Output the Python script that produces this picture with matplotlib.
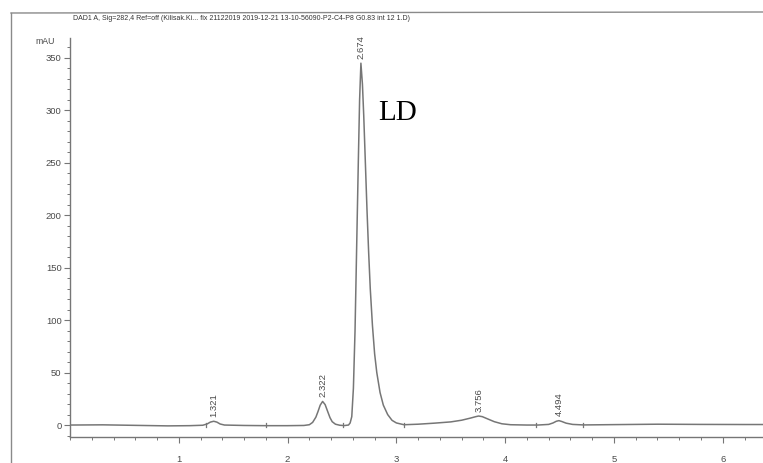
import matplotlib
matplotlib.use("Agg")
import matplotlib.pyplot as plt
from matplotlib.lines import Line2D
from matplotlib.ticker import MultipleLocator

# Detector trace, read point by point (retention time in min, signal in mAU)
trace_time = [0.00, 0.30, 0.60, 0.90, 1.10, 1.22, 1.26, 1.29, 1.321, 1.35, 1.38, 1.42,
              1.60, 1.80, 2.00, 2.15, 2.20, 2.23, 2.26, 2.28, 2.30, 2.322, 2.345, 2.37,
              2.39, 2.41, 2.44, 2.48, 2.52, 2.56, 2.575, 2.59, 2.605, 2.62, 2.635, 2.65,
              2.662, 2.674, 2.688, 2.70, 2.715, 2.73, 2.745, 2.76, 2.78, 2.80, 2.82, 2.85,
              2.88, 2.92, 2.96, 3.00, 3.07, 3.20, 3.35, 3.50, 3.60, 3.68, 3.73, 3.756,
              3.79, 3.84, 3.90, 3.97, 4.05, 4.20, 4.30, 4.40, 4.44, 4.47, 4.494, 4.52,
              4.56, 4.62, 4.72, 5.00, 5.40, 5.80, 6.20, 6.37]
trace_mau = [0.0, 0.2, -0.3, -0.8, -0.6, -0.2, 1.0, 2.8, 3.6, 2.8, 1.0, 0.0,
             -0.4, -0.6, -0.6, -0.4, 0.3, 2.5, 7.5, 13.0, 19.0, 22.5, 19.5, 12.5,
             7.0, 3.2, 0.8, -0.2, -0.5, 0.0, 2.0, 8.0, 35.0, 90.0, 170.0, 250.0,
             310.0, 345.0, 325.0, 295.0, 250.0, 205.0, 165.0, 130.0, 95.0, 68.0, 50.0, 31.0,
             19.0, 10.0, 4.5, 2.0, 0.3, 0.8, 1.8, 3.0, 4.6, 6.6, 8.0, 8.6,
             8.0, 5.8, 3.2, 1.2, 0.3, 0.0, 0.0, 0.6, 2.0, 3.6, 4.2, 3.4,
             1.8, 0.6, 0.1, 0.4, 0.8, 0.6, 0.5, 0.5]

# Integrated peaks: retention time and apex height
peak_time = [1.321, 2.322, 2.674, 3.756, 4.494]
peak_height = [3.6, 22.5, 345.0, 8.6, 4.2]
peak_label = ["1.321", "2.322", "2.674", "3.756", "4.494"]

# Integration event marks on the baseline
event_time = [1.25, 1.80, 2.51, 3.07, 4.28, 4.72]

x_ticks = [1, 2, 3, 4, 5, 6]
y_ticks = [0, 50, 100, 150, 200, 250, 300, 350]

title = ("DAD1 A, Sig=282,4 Ref=off (Kilisak.Ki... fix 21122019 2019-12-21 "
         "13-10-56090-P2-C4-P8 G0.83 int 12 1.D)")

W, H = 763, 463
fig = plt.figure(figsize=(W / 100, H / 100), dpi=100)
ax = fig.add_axes([70 / W, 1 - 437 / H, 1 - 70 / W, (437 - 38) / H])

ink = "#767676"
txt = "#4a4a4a"

ax.plot(trace_time, trace_mau, color=ink, lw=1.1, solid_joinstyle="round")

for t in event_time:
    ax.plot([t, t], [-2.2, 2.2], color=ink, lw=0.9)

for t, h, lab in zip(peak_time, peak_height, peak_label):
    ax.text(t, h + 4, lab, rotation=90, ha="center", va="bottom",
            fontsize=6.8, color=txt, family="Liberation Sans")

ax.text(2.83, 291, "LD", fontsize=21, family="Liberation Serif",
        color="black", va="baseline", ha="left")

ax.set_xlim(0, 6.37)
ax.set_ylim(-11.4, 369)

for s in ("top", "right"):
    ax.spines[s].set_visible(False)
for s in ("left", "bottom"):
    ax.spines[s].set_color(ink)
    ax.spines[s].set_linewidth(1.0)

ax.set_xticks(x_ticks)
ax.set_xticklabels([str(v) for v in x_ticks])
ax.set_yticks(y_ticks)
ax.set_yticklabels([str(v) for v in y_ticks])
ax.xaxis.set_minor_locator(MultipleLocator(0.2))
ax.yaxis.set_minor_locator(MultipleLocator(10))
ax.tick_params(axis="both", which="major", length=4, width=0.8, color=ink,
               labelsize=6.8, labelcolor=txt)
ax.tick_params(axis="y", which="major", pad=2)
ax.tick_params(axis="x", which="major", pad=9)
ax.tick_params(axis="both", which="minor", length=2.5, width=0.7, color=ink)
for lab in ax.get_xticklabels() + ax.get_yticklabels():
    lab.set_family("Liberation Sans")

fig.text(55 / W, 1 - 42 / H, "mAU", ha="right", va="center", fontsize=6.3,
         color=txt, family="Liberation Sans")
fig.text(73 / W, 1 - 18 / H, title, ha="left", va="center", fontsize=5.0,
         color="#333333", family="Liberation Sans")

# Report frame
fig.add_artist(Line2D([11 / W, 1.0], [1 - 13 / H, 1 - 12 / H], color="#8a8a8a", lw=1.0))
fig.add_artist(Line2D([11 / W, 11 / W], [1 - 13 / H, 0], color="#8a8a8a", lw=1.0))

fig.savefig("out.png", dpi=100)
